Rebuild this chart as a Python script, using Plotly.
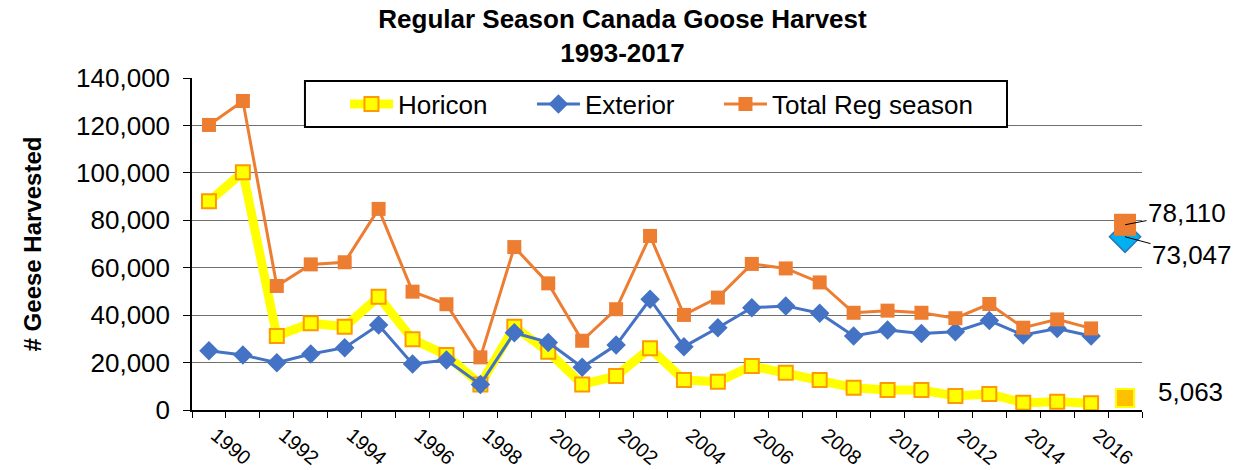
import plotly.graph_objects as go

# harvest by year (1990-2016), 2017 shown as separate highlighted points
years = list(range(1990, 2017))
horicon = [88000, 100300, 31200, 36600, 35100, 47800, 29800, 23200, 10800, 35100,
           24600, 10800, 14300, 26000, 12650, 11950, 18550, 15700, 12650, 9400,
           8400, 8400, 5900, 6750, 3100, 3500, 2800]
exterior = [25000, 23200, 19950, 23600, 26300, 35800, 19400, 21100, 10800, 32600,
            28500, 18000, 27400, 46700, 26700, 34700, 43100, 43900, 40800, 31200,
            33700, 32300, 33000, 37700, 31600, 34400, 31200]
total = [120200, 130300, 52300, 61400, 62300, 84800, 49900, 44600, 22200, 68700,
         53400, 29200, 42500, 73400, 40100, 47400, 61600, 59700, 53800, 41000,
         41900, 41000, 38700, 44700, 34700, 38200, 34400]

last_year = 2017
last_horicon = 5063
last_exterior = 73047
last_total = 78110

FONT = "Liberation Sans, Arial, sans-serif"

fig = go.Figure()

fig.add_trace(go.Scatter(
    x=years, y=horicon, name="Horicon", mode="lines+markers",
    line=dict(color="#FFFF00", width=9),
    marker=dict(symbol="square", size=14, color="#FFFF00",
                line=dict(color="#FF9900", width=2)),
    legendwidth=129,
))
fig.add_trace(go.Scatter(
    x=years, y=exterior, name="Exterior", mode="lines+markers",
    line=dict(color="#4472C4", width=3),
    marker=dict(symbol="diamond", size=15, color="#4472C4"),
    legendwidth=129,
))
fig.add_trace(go.Scatter(
    x=years, y=total, name="Total Reg season", mode="lines+markers",
    line=dict(color="#ED7D31", width=3),
    marker=dict(symbol="square", size=14, color="#ED7D31"),
    legendwidth=220,
))

# 2017 highlighted points
fig.add_trace(go.Scatter(
    x=[last_year], y=[last_horicon], mode="markers", showlegend=False,
    marker=dict(symbol="square", size=18, color="#FFC000",
                line=dict(color="#FFFF00", width=2)),
))
fig.add_trace(go.Scatter(
    x=[last_year], y=[last_exterior], mode="markers", showlegend=False,
    marker=dict(symbol="diamond", size=24, color="#00B0F0",
                line=dict(color="#2E75B6", width=1.5)),
))
fig.add_trace(go.Scatter(
    x=[last_year], y=[last_total], mode="markers", showlegend=False,
    marker=dict(symbol="square", size=22, color="#ED7D31"),
))

fig.add_annotation(x=last_year, y=last_total, text=f"{last_total:,}",
                   showarrow=True, arrowhead=0, arrowwidth=1, arrowcolor="black",
                   ax=62, ay=-12, standoff=0, font=dict(size=26, color="black"))
fig.add_annotation(x=last_year, y=last_exterior, text=f"{last_exterior:,}",
                   showarrow=True, arrowhead=0, arrowwidth=1, arrowcolor="black",
                   ax=67, ay=18, standoff=0, font=dict(size=26, color="black"))
fig.add_annotation(x=last_year, y=last_horicon, text=f"{last_horicon:,}",
                   showarrow=False, xshift=65, yshift=6,
                   font=dict(size=26, color="black"))

# legend frame (white box over the gridlines)
fig.add_shape(type="rect", xref="paper", yref="paper",
              x0=0.1189, x1=0.8579, y0=0.8524, y1=0.991,
              fillcolor="white", line=dict(color="black", width=2), layer="above")

fig.update_layout(
    width=1245, height=470,
    margin=dict(l=192, r=103, t=78, b=60),
    paper_bgcolor="white", plot_bgcolor="white",
    font=dict(family=FONT, color="black", size=26),
    title=dict(text="<b>Regular Season Canada Goose Harvest<br>1993-2017</b>",
               x=0.5, xanchor="center", y=0.94, yanchor="top",
               font=dict(size=26, family=FONT)),
    legend=dict(orientation="h", x=0.161, xanchor="left", y=0.9217, yanchor="middle",
                bgcolor="rgba(0,0,0,0)", borderwidth=0, itemwidth=43,
                font=dict(size=26), entrywidthmode="pixels"),
    showlegend=True,
)

fig.update_xaxes(
    range=[1989.5, 2017.5],
    tickvals=list(range(1990, 2017, 2)),
    tickangle=40, tickfont=dict(size=20),
    ticks="", ticklabelshift=7, ticklabelstandoff=4,
    minor=dict(tick0=1989.5, dtick=1, ticks="outside", ticklen=6,
               tickcolor="black", showgrid=False),
    showline=True, linecolor="black", linewidth=1.5,
    showgrid=False, zeroline=False, automargin=False,
)
fig.update_yaxes(
    range=[0, 140000], dtick=20000, tickformat=",",
    ticks="outside", ticklen=7, tickcolor="black", ticklabelstandoff=8,
    showline=True, linecolor="black", linewidth=1.5,
    showgrid=True, gridcolor="#707070", gridwidth=1.2, zeroline=False,
    automargin=False,
    title=dict(text="<b># Geese Harvested</b>", font=dict(size=24), standoff=28),
)

# drop the default page margin so the figure fills the window exactly
fig.write_html("out.html", config={"displayModeBar": False},
               post_script="document.body.style.margin='0';"
                           "document.body.style.overflow='hidden';")
